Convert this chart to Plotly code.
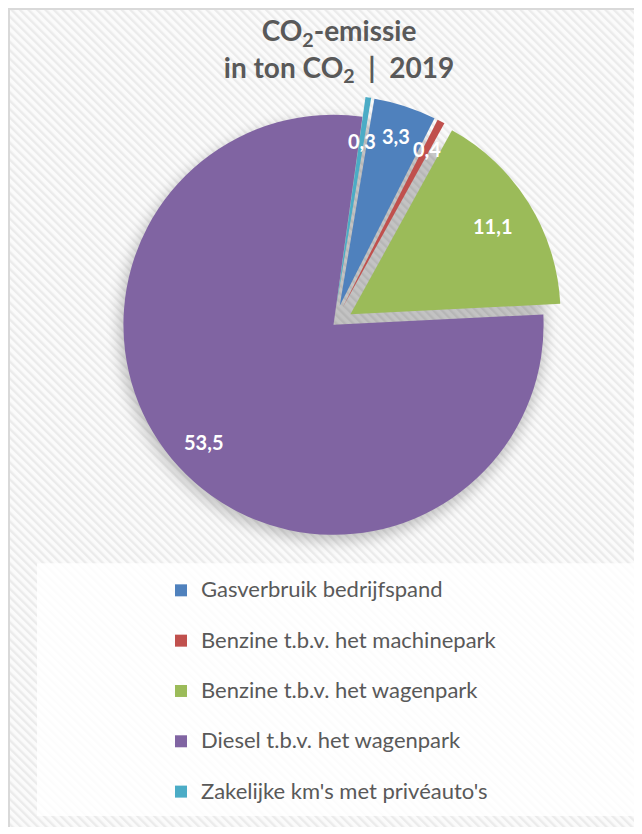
import math
import urllib.parse
import plotly.graph_objects as go

categories = [
    "Gasverbruik bedrijfspand",
    "Benzine t.b.v. het machinepark",
    "Benzine t.b.v. het wagenpark",
    "Diesel t.b.v. het wagenpark",
    "Zakelijke km's met privéauto's",
]
values = [3.3, 0.4, 11.1, 53.5, 0.3]
colors = ["#4f81bd", "#c0504d", "#9bbb59", "#8064a2", "#4bacc6"]
pulls = [0.095, 0.095, 0.095, 0.0, 0.095]
label_radius = [0.85, 0.85, 0.79, 0.83, 0.79]   # value-label distance, fraction of the radius

# figure fills the page inside the default 8px body margin
W, H = 634, 826
ROTATION = 9.5
DOM_X = [93.5 / W, 557.5 / W]
DOM_Y = [1 - 551.5 / H, 1 - 87.5 / H]

# legend labels: a blank second line widens the row spacing like the original
legend_labels = ["<span style='font-size:22px'>" + c + "</span><br>\u00a0" for c in categories]

bg_svg = (
    f"<svg xmlns='http://www.w3.org/2000/svg' width='{W}' height='{H}'>"
    "<defs>"
    "<pattern id='p' width='6' height='6' patternUnits='userSpaceOnUse' patternTransform='rotate(-45)'>"
    "<rect width='6' height='6' fill='#fbfbfb'/><rect width='2.4' height='6' fill='#ebebeb'/>"
    "</pattern>"
    "<filter id='b' x='-50%' y='-50%' width='200%' height='200%'><feGaussianBlur stdDeviation='7'/></filter>"
    "</defs>"
    "<rect width='100%' height='100%' fill='url(#p)'/>"
    "<circle cx='324' cy='325' r='213' fill='#000' opacity='0.22' filter='url(#b)'/>"
    "</svg>"
)
bg_uri = "data:image/svg+xml;charset=utf-8," + urllib.parse.quote(bg_svg)

fig = go.Figure()
fig.add_trace(go.Pie(
    labels=legend_labels,
    values=values,
    sort=False,
    direction="clockwise",
    rotation=ROTATION,
    pull=pulls,
    marker=dict(colors=colors, line=dict(width=0)),
    textinfo="none",
    hoverinfo="value",
    domain=dict(x=DOM_X, y=DOM_Y),
    showlegend=True,
))

# value labels placed along each slice's bisector (same geometry plotly uses for the pie)
box_w = W * (DOM_X[1] - DOM_X[0])
box_h = H * (DOM_Y[1] - DOM_Y[0])
r = min(box_w, box_h) / 2 / (1 + max(pulls))
cx = W * (DOM_X[0] + DOM_X[1]) / 2
cy = H * (1 - (DOM_Y[0] + DOM_Y[1]) / 2)
total = sum(values)
annotations = []
start = ROTATION
for v, p, lr in zip(values, pulls, label_radius):
    span = v / total * 360
    mid = math.radians(start + span / 2)
    px = cx + (p + lr) * r * math.sin(mid)
    py = cy - (p + lr) * r * math.cos(mid)
    annotations.append(dict(
        x=px / W, y=1 - py / H, xref="paper", yref="paper",
        text=f"{v:.1f}".replace(".", ","), showarrow=False,
        font=dict(family="Lato", size=20, color="white", weight="bold"),
        xanchor="center", yanchor="middle",
    ))
    start += span

fig.update_layout(
    width=W, height=H,
    margin=dict(l=0, r=0, t=0, b=0),
    paper_bgcolor="white",
    separators=",.",
    font=dict(family="Lato", color="#595959"),
    title=dict(
        text="<b>CO<sub>2</sub>-emissie<br>in ton CO<sub>2</sub>\u00a0 |\u00a0 2019</b>",
        x=331 / W, xanchor="center", xref="paper",
        y=1 - 33.5 / H, yanchor="middle", yref="paper",
        font=dict(family="Lato", size=28, color="#595959"),
    ),
    legend=dict(
        x=153 / W, xanchor="left",
        y=1 - 569 / H, yanchor="top",
        bgcolor="rgba(0,0,0,0)",
        font=dict(family="Lato", size=18.2, color="#595959"),
        valign="top",
        traceorder="normal",
    ),
    annotations=annotations,
    images=[dict(
        source=bg_uri, xref="paper", yref="paper",
        x=0, y=1, sizex=1, sizey=1,
        xanchor="left", yanchor="top", sizing="stretch", layer="below",
    )],
    shapes=[
        dict(type="rect", xref="paper", yref="paper",
             x0=29 / W, x1=1.0, y0=1 - 815 / H, y1=1 - 560 / H,
             fillcolor="rgba(255,255,255,0.85)", line=dict(width=0), layer="below"),
        dict(type="line", xref="paper", yref="paper",
             x0=0, x1=1.0, y0=1 - 1 / H, y1=1 - 1 / H,
             line=dict(color="#d9d9d9", width=2), layer="above"),
        dict(type="line", xref="paper", yref="paper",
             x0=1 / W, x1=1 / W, y0=0, y1=1,
             line=dict(color="#d9d9d9", width=2), layer="above"),
    ],
)

fig.write_html("out.html", config={"displayModeBar": False})
